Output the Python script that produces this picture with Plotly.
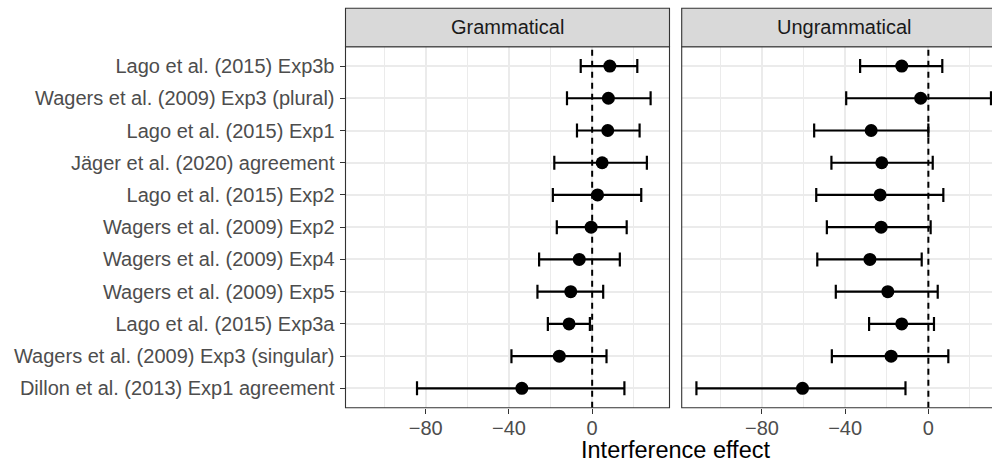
import plotly.graph_objects as go

# ---------------- data ----------------
studies = [
    "Lago et al. (2015) Exp3b",
    "Wagers et al. (2009) Exp3 (plural)",
    "Lago et al. (2015) Exp1",
    "Jäger et al. (2020) agreement",
    "Lago et al. (2015) Exp2",
    "Wagers et al. (2009) Exp2",
    "Wagers et al. (2009) Exp4",
    "Wagers et al. (2009) Exp5",
    "Lago et al. (2015) Exp3a",
    "Wagers et al. (2009) Exp3 (singular)",
    "Dillon et al. (2013) Exp1 agreement",
]
gram_mean = [8.5, 7.8, 7.5, 4.8, 2.6, -0.5, -6.2, -10.3, -11.1, -15.8, -33.8]
gram_lower = [-5.5, -12.1, -7.3, -18.2, -18.9, -17.0, -25.5, -26.3, -21.3, -38.8, -84.2]
gram_upper = [21.7, 28.1, 22.8, 26.3, 23.6, 16.6, 13.3, 5.3, -1.1, 6.9, 15.5]
ungram_mean = [-12.8, -3.7, -27.5, -22.4, -23.2, -22.7, -28.1, -19.5, -12.8, -17.9, -60.5]
ungram_lower = [-32.8, -39.5, -54.9, -46.6, -53.9, -48.8, -53.4, -44.5, -28.5, -46.4, -111.5]
ungram_upper = [6.7, 30.1, 0.0, 2.1, 7.2, 1.1, -3.2, 4.5, 2.7, 9.6, -11.0]
panel_titles = ["Grammatical", "Ungrammatical"]
x_tickvals = [-80, -40, 0]
x_ticktext = ["\u221280", "\u221240", "0"]
x_minorvals = [-100, -60, -20, 20]
x_title = "Interference effect"

# ---------------- geometry ----------------
W, H = 992, 463
FONT = "Liberation Sans, Arial, sans-serif"
TXT = 20
p1_l, p1_r = 345.5, 669.5
p2_l = 681.7
p2_full_r = p2_l + (p1_r - p1_l)
panel_t, panel_b = 46.7, 407.7
strip_t = 8.3

def px(x):
    return x / W

def py(y):
    return (H - y) / H

allv = gram_lower + gram_upper + ungram_lower + ungram_upper
lo, hi = min(allv), max(allv)
span = hi - lo
r0, r1 = lo - 0.05 * span, hi + 0.05 * span
# right panel is clipped by the picture edge
vis_frac = (W - p2_l) / (p2_full_r - p2_l)
r1_clip = r0 + (r1 - r0) * vis_frac

fig = go.Figure()

def add_panel(mean, lower, upper, xa, ya):
    fig.add_trace(go.Scatter(
        x=mean, y=studies, mode="markers",
        marker=dict(color="black", size=13),
        error_x=dict(type="data", symmetric=False,
                     array=[u - m for u, m in zip(upper, mean)],
                     arrayminus=[m - l for m, l in zip(mean, lower)],
                     color="black", thickness=2.2, width=7),
        xaxis=xa, yaxis=ya, showlegend=False, hoverinfo="skip",
    ))

add_panel(gram_mean, gram_lower, gram_upper, "x", "y")
add_panel(ungram_mean, ungram_lower, ungram_upper, "x2", "y2")

xcommon = dict(
    tickmode="array", tickvals=x_tickvals, ticktext=x_ticktext,
    ticks="outside", ticklen=5, tickwidth=1.1, tickcolor="#333333",
    tickfont=dict(family=FONT, size=TXT, color="#4D4D4D"),
    showgrid=True, gridcolor="#EBEBEB", gridwidth=1.5,
    minor=dict(tickvals=x_minorvals, showgrid=True, gridcolor="#EBEBEB",
               gridwidth=0.8, ticks=""),
    zeroline=False, showline=False,
    ticklabelstandoff=-3,
)
ycommon = dict(
    type="category", categoryorder="array", categoryarray=studies[::-1],
    range=[-0.6, len(studies) - 0.4],
    showgrid=True, gridcolor="#EBEBEB", gridwidth=1.5,
    zeroline=False, showline=False,
    domain=[py(panel_b), py(panel_t)],
)

fig.update_layout(
    width=W, height=H,
    margin=dict(l=0, r=0, t=0, b=0),
    paper_bgcolor="white", plot_bgcolor="white",
    xaxis=dict(domain=[px(p1_l), px(p1_r)], range=[r0, r1], anchor="y", **xcommon),
    xaxis2=dict(domain=[px(p2_l), 1.0], range=[r0, r1_clip], anchor="y2", **xcommon),
    yaxis=dict(anchor="x", ticks="outside", ticklen=5, tickwidth=1.1,
               tickcolor="#333333", ticklabelstandoff=1,
               tickfont=dict(family=FONT, size=TXT, color="#4D4D4D"), **ycommon),
    yaxis2=dict(anchor="x2", showticklabels=False, ticks="", **ycommon),
    font=dict(family=FONT),
)

shapes = []
# dashed zero lines
for xr, yr in (("x", "y domain"), ("x2", "y2 domain")):
    shapes.append(dict(type="line", xref=xr, yref=yr, x0=0, x1=0, y0=0, y1=1,
                       line=dict(color="black", width=2, dash="6px,5px"), layer="above"))
# panel borders and strips
for l, r in ((p1_l, p1_r), (p2_l, p2_full_r)):
    shapes.append(dict(type="rect", xref="paper", yref="paper",
                       x0=px(l), x1=px(r), y0=py(panel_b), y1=py(panel_t),
                       line=dict(color="#333333", width=1.1), fillcolor="rgba(0,0,0,0)",
                       layer="above"))
    shapes.append(dict(type="rect", xref="paper", yref="paper",
                       x0=px(l), x1=px(r), y0=py(panel_t), y1=py(strip_t),
                       line=dict(color="#333333", width=1.1), fillcolor="#D9D9D9",
                       layer="above"))
fig.update_layout(shapes=shapes)

ann = []
for (l, r), t in zip(((p1_l, p1_r), (p2_l, p2_full_r)), panel_titles):
    ann.append(dict(xref="paper", yref="paper", x=px((l + r) / 2),
                    y=py((strip_t + panel_t) / 2), text=t, showarrow=False,
                    xanchor="center", yanchor="middle",
                    font=dict(family=FONT, size=TXT, color="#1A1A1A")))
ann.append(dict(xref="paper", yref="paper", x=px((p1_l + p2_full_r) / 2), y=py(449.5),
                text=x_title, showarrow=False, xanchor="center", yanchor="middle",
                font=dict(family=FONT, size=23.5, color="black")))
fig.update_layout(annotations=ann)

fig.write_html("out.html")
